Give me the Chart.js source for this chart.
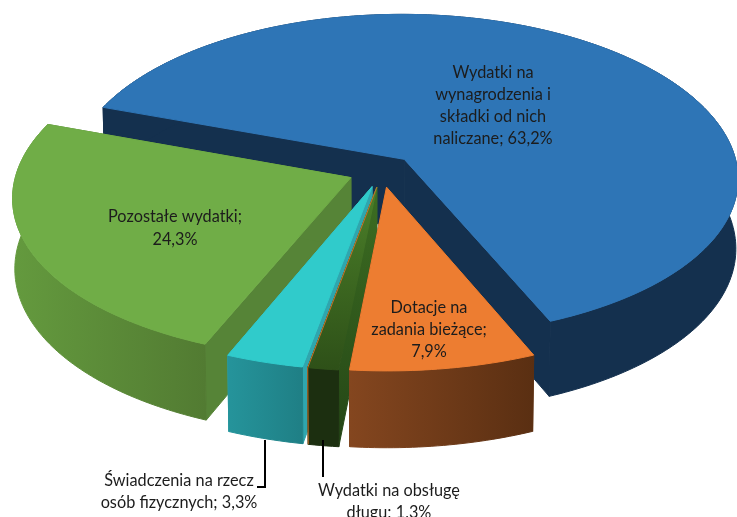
<!DOCTYPE html>
<html>
<head>
<meta charset="utf-8">
<style>
    html, body { margin: 0; padding: 0; background: #ffffff; overflow: hidden; }
    canvas { display: block; }
</style>
<script src="https://cdn.jsdelivr.net/npm/chart.js@4/dist/chart.umd.js"></script>
</head>
<body>
<canvas id="pie" width="737" height="517"></canvas>
<script>
// slice order as in the source sheet, clockwise from the blue one
const categories = ['Wydatki na wynagrodzenia i składki od nich naliczane', 'Dotacje na zadania bieżące', 'Wydatki na obsługę długu', 'Świadczenia na rzecz osób fizycznych', 'Pozostałe wydatki'];
const values = [63.2, 7.9, 1.3, 3.3, 24.3];
const labelLines = [
    ['Wydatki na', 'wynagrodzenia i', 'składki od nich', 'naliczane; 63,2%'],
    ['Dotacje na', 'zadania bieżące;', '7,9%'],
    ['Wydatki na obsługę', 'długu; 1,3%'],
    ['Świadczenia na rzecz', 'osób fizycznych; 3,3%'],
    ['Pozostałe wydatki;', '24,3%']
];

const topColors = ['#2e75b6', '#ed7d31', ['#4b8029', '#2e5018'], '#30cbcb', '#70ad47'];
const sideColors = ['#14304e', ['#84461f', '#5a2f12'], '#1c2f10', ['#25949b', '#1f7f85'], ['#649a3e', '#527b32']];
const cutColors = ['#14304e', '#6b3a18', ['#3d6e22', '#244516'], '#2fa6ae', '#568437'];

// view of the tilted pie
const view = {cx: 381.5, cy: 171, rx: 334, ry: 161.8, depth: 70, perspX: 0.115, perspY: 0.1006, persp2: 0.006, explode: 0.1};
const labelAt = [[493, 73], [429, 308], [389, 491], [179, 481], [175, 217]];
const lineGap = [22, 22, 22, 22, 23];
const drawOrder = [0, 4, 3, 2, 1];

function project(u, v, z) {
    const wx = 1 / (1 - view.perspX * v + view.persp2 * z);
    const wy = 1 / (1 - view.perspY * v + view.persp2 * z);
    return [view.cx + view.rx * u * wx, view.cy + (view.ry * v + view.depth * z) * wy];
}

function fillPoly(ctx, pts, style) {
    ctx.beginPath();
    pts.forEach((p, i) => i ? ctx.lineTo(p[0], p[1]) : ctx.moveTo(p[0], p[1]));
    ctx.closePath();
    ctx.fillStyle = style;
    ctx.fill();
    ctx.strokeStyle = style;
    ctx.lineWidth = 1;
    ctx.stroke();
}

function paint(ctx, pts, col, vertical) {
    if (!Array.isArray(col)) {
        return col;
    }
    const xs = pts.map(p => p[0]);
    const ys = pts.map(p => p[1]);
    const g = vertical
        ? ctx.createLinearGradient(0, Math.min(...ys), 0, Math.max(...ys))
        : ctx.createLinearGradient(Math.min(...xs), 0, Math.max(...xs), 0);
    g.addColorStop(0, col[0]);
    g.addColorStop(1, col[1]);
    return g;
}

function drawSlice(ctx, el, i) {
    const a0 = el.startAngle;
    const a1 = el.endAngle;
    const mid = (a0 + a1) / 2;
    const ox = Math.cos(mid) * view.explode;
    const oy = Math.sin(mid) * view.explode;

    const rim = [];
    const steps = Math.max(4, Math.ceil((a1 - a0) * 60));
    for (let s = 0; s <= steps; s++) {
        const a = a0 + (a1 - a0) * s / steps;
        rim.push([ox + Math.cos(a), oy + Math.sin(a)]);
    }
    const at = (p, z) => project(p[0], p[1], z);
    const apex = [ox, oy];
    const first = rim[0];
    const last = rim[rim.length - 1];

    // cut faces
    [first, last].forEach(edge => {
        const pts = [at(apex, 0), at(edge, 0), at(edge, 1), at(apex, 1)];
        fillPoly(ctx, pts, paint(ctx, pts, cutColors[i], true));
    });

    // rim
    const side = rim.map(p => at(p, 0)).concat(rim.slice().reverse().map(p => at(p, 1)));
    fillPoly(ctx, side, paint(ctx, side, sideColors[i], false));

    // top
    const top = [at(apex, 0)].concat(rim.map(p => at(p, 0)));
    fillPoly(ctx, top, paint(ctx, top, topColors[i], true));

    // the thin orange seam on the small slice
    if (i === 2) {
        ctx.beginPath();
        const a = at(apex, 0);
        const b = at(last, 0);
        const c = at(last, 1);
        ctx.moveTo(a[0], a[1]);
        ctx.lineTo(b[0], b[1]);
        ctx.lineTo(c[0], c[1]);
        ctx.strokeStyle = '#c8702c';
        ctx.lineWidth = 1;
        ctx.stroke();
    }
}

const pie3d = {
    id: 'pie3d',
    beforeDatasetDraw(chart) {
        const ctx = chart.ctx;
        const arcs = chart.getDatasetMeta(0).data;
        drawOrder.forEach(i => drawSlice(ctx, arcs[i], i));
        return false;
    },
    afterDatasetsDraw(chart) {
        const ctx = chart.ctx;
        ctx.save();

        // leader lines
        ctx.strokeStyle = '#000000';
        ctx.lineWidth = 2;
        ctx.beginPath();
        ctx.moveTo(265, 440);
        ctx.lineTo(265, 487);
        ctx.lineTo(257, 487);
        ctx.moveTo(323, 440);
        ctx.lineTo(323, 477);
        ctx.stroke();

        ctx.fillStyle = '#1c1c1c';
        ctx.font = '16.3px Lato';
        ctx.textAlign = 'center';
        ctx.textBaseline = 'middle';
        labelLines.forEach((lines, i) => {
            lines.forEach((line, n) => {
                ctx.fillText(line, labelAt[i][0], labelAt[i][1] + n * lineGap[i]);
            });
        });
        ctx.restore();
    }
};

new Chart(document.getElementById('pie').getContext('2d'), {
    type: 'pie',
    data: {
        labels: categories,
        datasets: [{data: values, backgroundColor: topColors.map(c => Array.isArray(c) ? c[0] : c)}]
    },
    options: {
        responsive: false,
        animation: false,
        rotation: -70.3,
        plugins: {
            legend: {display: false},
            tooltip: {enabled: false}
        }
    },
    plugins: [pie3d]
});
</script>
</body>
</html>
